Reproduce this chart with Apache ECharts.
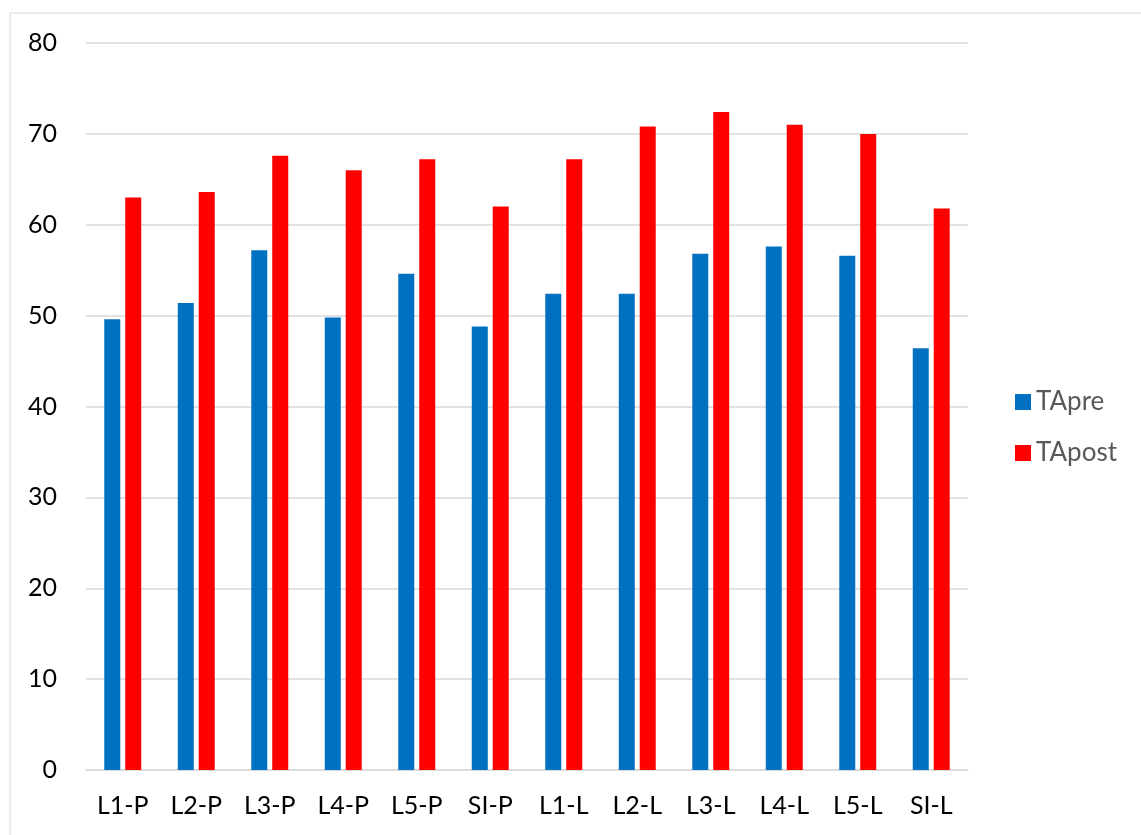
<!DOCTYPE html>
<html>
<head>
<meta charset="utf-8">
<script src="https://cdn.jsdelivr.net/npm/echarts@6/dist/echarts.min.js"></script>
<style>html,body{margin:0;padding:0;background:#fff;}#c{width:1141px;height:835px;}</style>
</head>
<body>
<div id="c"></div>
<script>
const categories = ['L1-P','L2-P','L3-P','L4-P','L5-P','SI-P','L1-L','L2-L','L3-L','L4-L','L5-L','SI-L'];
const taPre  = [49.6, 51.4, 57.2, 49.8, 54.6, 48.8, 52.4, 52.4, 56.8, 57.6, 56.6, 46.4];
const taPost = [63.0, 63.6, 67.6, 66.0, 67.2, 62.0, 67.2, 70.8, 72.4, 71.0, 70.0, 61.8];
const yTicks = [0, 10, 20, 30, 40, 50, 60, 70, 80];

const chart = echarts.init(document.getElementById('c'));
const font = 'Lato';
chart.setOption({
  animation: false,
  backgroundColor: '#fff',
  graphic: [
    { type: 'line', shape: { x1: 10, y1: 13, x2: 1141, y2: 13 }, style: { stroke: '#d9d9d9', lineWidth: 1 } },
    { type: 'line', shape: { x1: 10, y1: 13, x2: 10, y2: 835 }, style: { stroke: '#d9d9d9', lineWidth: 1 } }
  ],
  grid: { left: 86, right: 173, top: 43, bottom: 65 },
  legend: {
    orient: 'vertical', left: 1010, top: 384,
    itemWidth: 16, itemHeight: 16, itemGap: 25,
    icon: 'rect',
    textStyle: { fontFamily: font, fontSize: 26, color: '#595959' },
    data: ['TApre', 'TApost']
  },
  xAxis: {
    type: 'category', data: categories,
    axisLine: { lineStyle: { color: '#d9d9d9', width: 1.5 } },
    axisTick: { show: false },
    axisLabel: { fontFamily: font, fontSize: 25, color: '#000', margin: 23 }
  },
  yAxis: {
    type: 'value', min: yTicks[0], max: yTicks[yTicks.length-1], interval: 10,
    axisLine: { show: false }, axisTick: { show: false },
    splitLine: { lineStyle: { color: '#d9d9d9', width: 1.5 } },
    axisLabel: { fontFamily: font, fontSize: 25, color: '#000', margin: 29 }
  },
  series: [
    { name: 'TApre', type: 'bar', data: taPre, barWidth: 16, barGap: '31%', itemStyle: { color: '#0070C0' } },
    { name: 'TApost', type: 'bar', data: taPost, barWidth: 16, barGap: '31%', itemStyle: { color: '#FF0000' } }
  ]
});
</script>
</body>
</html>
